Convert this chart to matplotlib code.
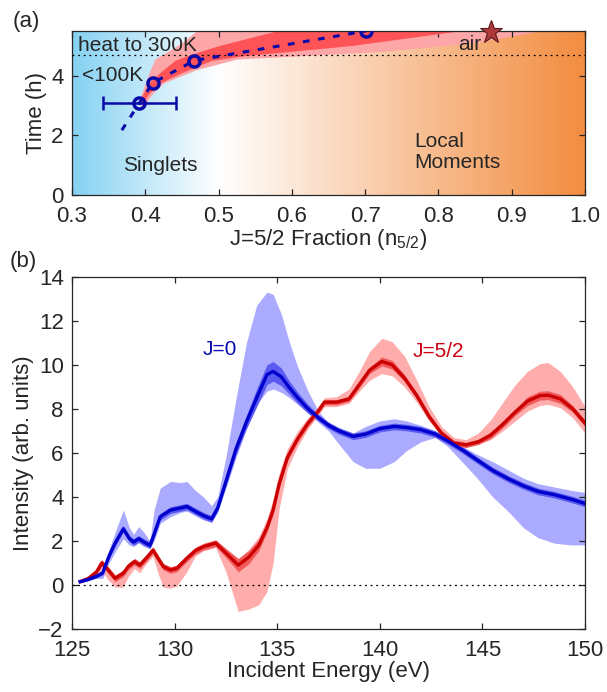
import numpy as np
import matplotlib
matplotlib.use("Agg")
import matplotlib.pyplot as plt

plt.rcParams["font.family"] = ["Liberation Sans", "DejaVu Sans"]
plt.rcParams["font.size"] = 15
plt.rcParams["mathtext.fontset"] = "custom"
plt.rcParams["mathtext.rm"] = "Liberation Sans"
plt.rcParams["mathtext.it"] = "Liberation Sans"

TXT = "#262626"
TICK_FS = 16
NOTE_FS = 15

# -----------------------------------------------------------------------------
# Panel (a) data
# -----------------------------------------------------------------------------
frac = [0.392, 0.41, 0.467, 0.701]
time_h = [3.08, 3.75, 4.5, 5.49]
frac_err = 0.05
fit_frac = [0.368, 0.392, 0.41, 0.467, 0.701]
fit_time = [2.17, 3.08, 3.75, 4.5, 5.49]
air_frac, air_time = 0.872, 5.46
heat_time = 4.67

outer_t = [3.0, 3.4, 3.75, 4.2, 4.55, 4.8, 5.1, 5.5]
outer_left = [0.392, 0.395, 0.40, 0.407, 0.413, 0.43, 0.45, 0.47]
outer_right = [0.398, 0.41, 0.425, 0.47, 0.525, 0.72, 0.85, 0.94]
inner_t = [3.05, 3.4, 3.75, 4.1, 4.5, 4.65, 5.0, 5.5]
inner_left = [0.39, 0.397, 0.405, 0.42, 0.44, 0.455, 0.5, 0.58]
inner_right = [0.395, 0.405, 0.42, 0.45, 0.49, 0.53, 0.68, 0.83]

# -----------------------------------------------------------------------------
# Panel (b) data
# -----------------------------------------------------------------------------
e_blue = [125.4, 125.8, 126.2, 126.5, 126.8, 127.1, 127.5, 127.8, 128.0, 128.25,
          128.5, 128.8, 129.0, 129.3, 129.8, 130.3, 130.6, 131.0, 131.4, 131.8,
          132.1, 132.5, 133.0, 133.5, 134.0, 134.5, 134.8, 135.2, 135.6, 136.0,
          136.5, 137.0, 137.5, 138.0, 138.7, 139.3, 140.0, 140.7, 141.3, 142.0,
          142.7, 143.3, 144.0, 144.7, 145.5, 146.3, 147.0, 147.7, 148.5, 149.3,
          150.0]
j0 = [0.15, 0.25, 0.4, 0.55, 1.3, 1.9, 2.55, 2.1, 1.95, 2.1,
      1.95, 1.8, 2.3, 3.1, 3.4, 3.5, 3.56, 3.35, 3.15, 3.0,
      3.5, 4.7, 6.2, 7.4, 8.5, 9.55, 9.7, 9.45, 8.95, 8.5,
      8.0, 7.6, 7.25, 7.0, 6.75, 6.85, 7.1, 7.2, 7.15, 7.05,
      6.85, 6.55, 6.15, 5.7, 5.2, 4.8, 4.5, 4.25, 4.1, 3.9,
      3.7]
j0_hi = [0.2, 0.3, 0.5, 0.7, 1.6, 2.4, 3.4, 2.6, 2.3, 2.65,
         2.4, 2.0, 3.4, 4.4, 4.7, 4.65, 4.7, 4.3, 4.0, 3.6,
         4.0, 5.8, 8.5, 11.0, 12.7, 13.3, 13.2, 12.3, 11.0, 9.9,
         8.8, 7.9, 7.35, 7.1, 6.9, 7.2, 7.45, 7.55, 7.45, 7.25,
         7.0, 6.7, 6.3, 5.95, 5.6, 5.2, 4.85, 4.6, 4.45, 4.3,
         4.2]
j0_lo = [0.1, 0.2, 0.3, 0.3, 1.0, 1.5, 2.1, 1.8, 1.75, 1.9,
         1.75, 1.65, 2.0, 2.8, 3.1, 3.3, 3.35, 3.15, 2.95, 2.85,
         3.3, 4.4, 5.8, 7.1, 8.2, 8.8, 8.9, 8.75, 8.5, 8.2,
         7.8, 7.4, 7.0, 6.4, 5.6, 5.3, 5.3, 5.6, 6.1, 6.5,
         6.7, 6.3, 5.6, 4.9, 4.0, 3.3, 2.6, 2.15, 1.9, 1.82,
         1.82]
j0_inner = [0.05, 0.05, 0.08, 0.1, 0.12, 0.15, 0.15, 0.15, 0.15, 0.15,
            0.15, 0.15, 0.15, 0.15, 0.15, 0.15, 0.15, 0.15, 0.15, 0.15,
            0.15, 0.2, 0.25, 0.3, 0.4, 0.45, 0.45, 0.4, 0.3, 0.25,
            0.2, 0.15, 0.15, 0.15, 0.15, 0.15, 0.15, 0.15, 0.15, 0.15,
            0.15, 0.15, 0.15, 0.15, 0.15, 0.15, 0.15, 0.15, 0.15, 0.15,
            0.15]

e_red = [125.4, 125.8, 126.2, 126.45, 126.7, 127.1, 127.5, 127.75, 128.05, 128.3,
         128.6, 128.95, 129.2, 129.45, 129.8, 130.1, 130.6, 131.0, 131.4, 132.0,
         132.5, 133.1, 133.6, 134.1, 134.5, 134.8, 135.1, 135.5, 136.0, 136.5,
         137.0, 137.3, 137.9, 138.5, 139.0, 139.5, 140.1, 140.6, 141.2, 141.8,
         142.4, 143.0, 143.6, 144.2, 144.8, 145.4, 146.0, 146.6, 147.2, 147.8,
         148.2, 148.8, 149.4, 150.0]
j52 = [0.15, 0.3, 0.6, 1.0, 0.75, 0.3, 0.53, 0.85, 1.06, 0.9,
       1.2, 1.58, 1.2, 0.83, 0.68, 0.75, 1.21, 1.55, 1.74, 1.9,
       1.45, 0.9, 1.25, 1.8, 2.6, 3.4, 4.6, 5.8, 6.65, 7.35,
       7.9, 8.3, 8.3, 8.45, 9.1, 9.75, 10.15, 10.0, 9.4, 8.6,
       7.65, 6.9, 6.45, 6.36, 6.5, 6.8, 7.3, 7.85, 8.35, 8.6,
       8.62, 8.45, 8.0, 7.35]
j52_hi = [0.2, 0.35, 0.7, 1.1, 0.9, 0.45, 0.6, 0.95, 1.15, 1.0,
          1.3, 1.7, 1.3, 0.95, 0.8, 0.9, 1.35, 1.7, 1.85, 2.05,
          1.65, 1.2, 1.6, 2.2, 3.0, 3.9, 5.1, 6.2, 7.0, 7.6,
          8.1, 8.5, 8.55, 8.9, 9.7, 10.6, 11.2, 11.05, 10.4, 9.3,
          8.1, 7.2, 6.7, 6.6, 6.9, 7.5, 8.3, 9.1, 9.7, 10.05,
          10.1, 9.7, 9.0, 8.1]
j52_lo = [0.1, 0.25, 0.5, 0.7, 0.3, -0.1, -0.1, 0.4, 0.75, 0.55,
          0.95, 1.3, 0.5, -0.1, -0.15, -0.05, 0.6, 1.3, 1.55, 1.7,
          0.6, -1.2, -1.1, -0.9, -0.3, 1.0, 3.5, 5.3, 6.3, 7.1,
          7.7, 8.1, 8.1, 8.25, 8.8, 9.3, 9.6, 9.5, 9.0, 8.3,
          7.45, 6.75, 6.35, 6.3, 6.4, 6.6, 7.0, 7.45, 7.9, 8.15,
          8.2, 8.05, 7.6, 6.9]
j52_inner = [0.05, 0.08, 0.1, 0.15, 0.15, 0.15, 0.15, 0.15, 0.15, 0.15,
             0.15, 0.15, 0.15, 0.15, 0.15, 0.15, 0.15, 0.15, 0.15, 0.15,
             0.2, 0.3, 0.3, 0.25, 0.2, 0.2, 0.2, 0.15, 0.15, 0.15,
             0.12, 0.12, 0.12, 0.12, 0.15, 0.15, 0.2, 0.2, 0.15, 0.15,
             0.12, 0.12, 0.12, 0.12, 0.12, 0.15, 0.15, 0.15, 0.2, 0.2,
             0.2, 0.2, 0.15, 0.15]


def style_axes(ax):
    ax.tick_params(direction="in", top=True, right=True, length=4,
                   width=0.9, colors=TXT, labelsize=TICK_FS)
    ax.tick_params(axis="x", pad=8)
    ax.tick_params(axis="y", pad=6)
    for s in ax.spines.values():
        s.set_color(TXT)
        s.set_linewidth(0.9)


fig = plt.figure(figsize=(6.07, 6.92), dpi=100)

# ----------------------------- panel (a) -------------------------------------
ax = fig.add_axes([72 / 607, 1 - 195 / 692, 513 / 607, 164.3 / 692])

# background gradient: sky blue -> white (at 0.5) -> orange
xs = np.linspace(0.3, 1.0, 700)
blue = np.array([0.52, 0.82, 0.95])
white = np.array([1.0, 1.0, 1.0])
orange = np.array([0.95, 0.55, 0.25])
img = np.zeros((2, xs.size, 3))
for i, x in enumerate(xs):
    if x < 0.5:
        t = (0.5 - x) / 0.2
        c = white + (blue - white) * t
    else:
        t = (x - 0.5) / 0.5
        c = white + (orange - white) * t
    img[:, i, :] = c
ax.imshow(img, extent=[0.3, 1.0, 0, 5.5], aspect="auto", zorder=0,
          interpolation="bilinear")

ax.fill_betweenx(outer_t, outer_left, outer_right, color="#FCA6A8", lw=0, zorder=1)
ax.fill_betweenx(inner_t, inner_left, inner_right, color="#FF5457", lw=0, zorder=2)
ax.axhline(heat_time, color="k", ls=(0, (1.5, 3)), lw=0.9, zorder=3)

ax.plot(fit_frac, fit_time, ls=(0, (2.2, 2.8)), color="#0A0AA8", lw=2.2, zorder=4)
ax.errorbar(frac[0], time_h[0], xerr=frac_err, color="#0A0AA8", lw=1.8,
            capsize=5, capthick=1.8, zorder=4)
ax.plot(frac, time_h, "o", mfc="none", mec="#0A0AA8", mew=2.5, ms=8, zorder=5)
ax.plot(air_frac, air_time, marker="*", ms=17, mfc="#B03A3A", mec="#5A1A1A",
        mew=0.8, zorder=5, clip_on=False)

ax.text(0.308, 5.0, "heat to 300K", color=TXT, fontsize=NOTE_FS, va="center", zorder=6)
ax.text(0.313, 4.0, "<100K", color=TXT, fontsize=NOTE_FS, va="center", zorder=6)
ax.text(0.843, 5.05, "air", color=TXT, fontsize=NOTE_FS, va="center", ha="center", zorder=6)
ax.text(0.42, 1.0, "Singlets", color=TXT, fontsize=NOTE_FS, va="center", ha="center")
ax.text(0.767, 1.45, "Local\nMoments", color=TXT, fontsize=NOTE_FS, va="center",
        ha="left", linespacing=1.15)

ax.set_xlim(0.3, 1.0)
ax.set_ylim(0, 5.5)
ax.set_xticks(np.arange(0.3, 1.01, 0.1))
ax.set_xticklabels([f"{v:.1f}" for v in np.arange(0.3, 1.01, 0.1)])
ax.set_yticks([0, 2, 4])
ax.set_xlabel(r"J=5/2 Fraction (n$_{5/2}$)", color=TXT, fontsize=TICK_FS, labelpad=0)
ax.set_ylabel("Time (h)", color=TXT, fontsize=TICK_FS, labelpad=3)
style_axes(ax)
fig.text(13 / 607, 1 - 21 / 692, "(a)", color=TXT, fontsize=TICK_FS, va="center")

# ----------------------------- panel (b) -------------------------------------
bx = fig.add_axes([72 / 607, 1 - 629 / 692, 513 / 607, 352.3 / 692])

bx.fill_between(e_blue, j0_lo, j0_hi, color="#AAAAFF", lw=0, zorder=1)
bx.fill_between(e_red, j52_lo, j52_hi, color="#FFA8A8", lw=0, zorder=1, alpha=0.95)
j0_a, j0_w = np.array(j0), np.array(j0_inner)
j52_a, j52_w = np.array(j52), np.array(j52_inner)
bx.fill_between(e_blue, j0_a - j0_w, j0_a + j0_w, color="#5A5AF0", lw=0, zorder=2)
bx.fill_between(e_red, j52_a - j52_w, j52_a + j52_w, color="#F05A5A", lw=0, zorder=2)
bx.plot(e_red, j52, color="#CC0000", lw=2.4, zorder=3)
bx.plot(e_blue, j0, color="#0000CC", lw=2.4, zorder=4)
bx.axhline(0, color="k", ls=(0, (1.5, 3)), lw=0.9, zorder=5)

bx.text(132.2, 10.7, "J=0", color="#0A0AB0", fontsize=NOTE_FS, ha="center", va="center")
bx.text(142.85, 10.6, "J=5/2", color="#CC0010", fontsize=NOTE_FS, ha="center", va="center")

bx.set_xlim(125, 150)
bx.set_ylim(-2, 14)
bx.set_xticks(range(125, 151, 5))
bx.set_yticks(range(-2, 15, 2))
bx.set_xlabel("Incident Energy (eV)", color=TXT, fontsize=TICK_FS, labelpad=0)
bx.set_ylabel("Intensity (arb. units)", color=TXT, fontsize=TICK_FS, labelpad=3)
style_axes(bx)
fig.text(10 / 607, 1 - 262 / 692, "(b)", color=TXT, fontsize=TICK_FS, va="center")

fig.savefig("out.png", dpi=100)
